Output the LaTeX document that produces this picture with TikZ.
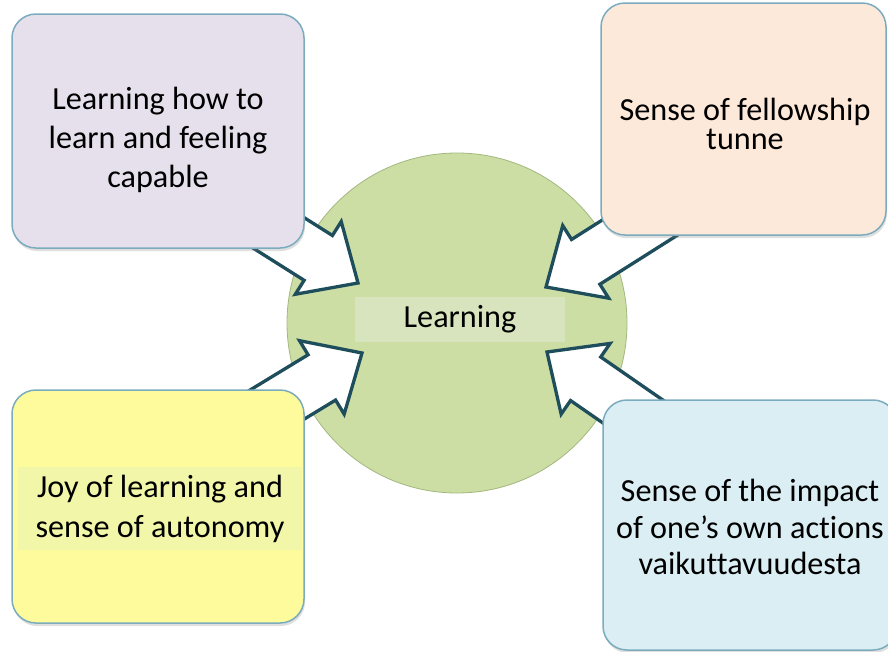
\documentclass[tikz,border=0pt]{standalone}
\usepackage{fontspec}
\setmainfont{Carlito}[Ligatures=CommonOff]
\usetikzlibrary{calc,shadows}

\definecolor{lavender}{HTML}{E5E0EC}
\definecolor{peach}{HTML}{FDE9D9}
\definecolor{lemon}{HTML}{FEFB9C}
\definecolor{lemonband}{HTML}{F1F6A8}
\definecolor{skyblue}{HTML}{DAEEF3}
\definecolor{boxline}{HTML}{7AACBE}
\definecolor{arrowline}{HTML}{1E4D5C}
\definecolor{leafin}{HTML}{CCDEA4}
\definecolor{leafout}{HTML}{B8CE8A}
\definecolor{leafrim}{HTML}{A3B77F}
\definecolor{leafband}{HTML}{D7E4BD}

\pgfdeclareradialshading{leaf}{\pgfpoint{0bp}{0bp}}{color(0bp)=(leafin); color(36bp)=(leafin); color(50bp)=(leafout)}

\tikzset{
  box/.style={draw=boxline, line width=1.5pt, rounded corners=24pt,
    drop shadow={shadow xshift=1pt, shadow yshift=-3pt, opacity=0.25}},
  txt/.style={align=center, inner sep=0pt, font=\fontsize{32.2}{38}\selectfont},
  fatarrow/.style={draw=arrowline, fill=white, line width=3.3pt, line join=miter},
}

% block arrow from #1 (tail) to #2 (tip)
\newcommand{\fatarrow}[2]{%
  \draw[fatarrow] (#2)
    -- ($(#2)!47pt!(#1)!43pt!90:(#1)$)
    -- ($(#2)!47pt!(#1)!26.5pt!90:(#1)$)
    -- ($(#1)!26.5pt!-90:(#2)$)
    -- ($(#1)!26.5pt!90:(#2)$)
    -- ($(#2)!47pt!(#1)!26.5pt!-90:(#1)$)
    -- ($(#2)!47pt!(#1)!43pt!-90:(#1)$)
    -- cycle;}

\begin{document}
\begin{tikzpicture}[x=1pt, y=-1pt]
  \clip (0,0) rectangle (888,651);

  \node[circle, minimum size=340pt, shading=leaf, draw=leafrim, line width=0.8pt] (learn) at (457,323) {};
  \node[txt, fill=leafband, minimum width=210pt, minimum height=45pt] (learn-txt) at (460,319.5) {Learning};

  \coordinate (capable-tail) at (225,199);
  \coordinate (capable-tip) at (358,283);
  \coordinate (fellow-tail) at (674,206);
  \coordinate (fellow-tip) at (546,287);
  \coordinate (autonomy-tail) at (232,432);
  \coordinate (autonomy-tip) at (362,353);
  \coordinate (impact-tail) at (674,440);
  \coordinate (impact-tip) at (547,352);

  \fatarrow{capable-tail}{capable-tip}
  \fatarrow{fellow-tail}{fellow-tip}
  \fatarrow{autonomy-tail}{autonomy-tip}
  \fatarrow{impact-tail}{impact-tip}

  \node[box, fill=lavender, minimum width=292pt, minimum height=234pt] (capable) at (158,131) {};
  \node[box, fill=peach, minimum width=285pt, minimum height=232pt] (fellow) at (743.5,119) {};
  \node[box, fill=lemon, minimum width=292pt, minimum height=233pt] (autonomy) at (158,506.5) {};
  \node[box, fill=skyblue, minimum width=294pt, minimum height=250pt] (impact) at (750,525) {};

  \node[txt] (capable-txt) at (158,140) {Learning how to\\[1pt]learn and feeling\\[1pt]capable};
  \node[txt] (fellow-txt) at (745,124) {Sense of fellowship\\[-9pt]tunne};
  \node[txt, fill=lemonband, minimum width=284pt, minimum height=83pt] (autonomy-txt) at (160,508.5) {Joy of learning and\\[2pt]sense of autonomy};
  \node[txt] (impact-txt) at (750,527) {Sense of the impact\\[-1.5pt]of one’s own actions\\[-1.5pt]vaikuttavuudesta};
\end{tikzpicture}
\end{document}
